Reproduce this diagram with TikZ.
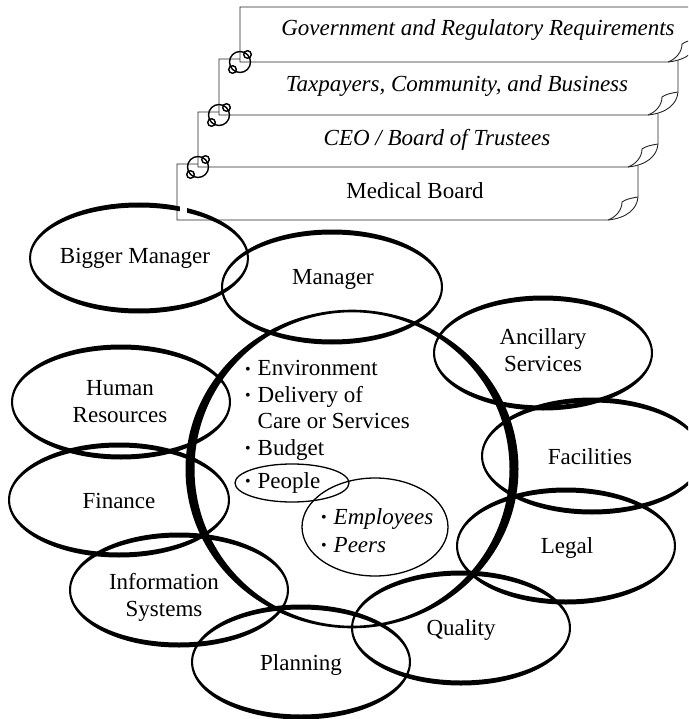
\documentclass[tikz,border=0pt]{standalone}
\usepackage{fontspec}
\setmainfont{Liberation Serif}

% Brush-stroke ring: filled band between two concentric ellipses,
% #1,#2 centre; #3,#4 radii; #5,#6 half stroke width at the sides / top-bottom
\newcommand{\brushring}[6]{%
  \fill[even odd rule] (#1,#2) ellipse [x radius={#3+#5}, y radius={#4+#6}]
                       (#1,#2) ellipse [x radius={#3-#5}, y radius={#4-#6}];}

% Scroll-like banner with a curled lower right corner: left, top, right, bottom
\newcommand{\scrollbox}[4]{%
  \filldraw[boxline] (#1,#2) -- (#3,#2) -- (#3,#4-23)
     .. controls (#3-1,#4-11) and (#3-11,#4-2) .. (#3-30,#4) -- (#1,#4) -- cycle;
  \draw[boxline] (#3,#4-23) .. controls (#3-6,#4-22) and (#3-12,#4-21) .. (#3-16,#4-18)
     .. controls (#3-16,#4-10) and (#3-22,#4-3) .. (#3-30,#4);}

% Rolled edge where two banners meet
\newcommand{\scrollcurl}[2]{%
  \draw[curlline] (#1,#2) circle [radius=10.5];
  \draw[curlline] (#1+7.5,#2-7.5) circle [radius=3.8];
  \draw[curlline] (#1-7.5,#2+7.5) circle [radius=3.8];}

\newcommand{\bul}{\makebox[12.5pt][l]{\raisebox{1.2pt}{\fontsize{16}{16}\selectfont\textbullet}}}

\begin{document}
\begin{tikzpicture}[x=1pt,y=-1pt,
  boxline/.style={draw=black!85, line width=0.9pt, fill=white},
  curlline/.style={draw=black, line width=1.4pt},
  thinring/.style={draw=black, line width=1.3pt},
  lbl/.style={inner sep=0pt, font=\fontsize{23}{26.5}\selectfont, align=center},
  boxtxt/.style={lbl, anchor=base},
  lbltxt/.style={lbl, anchor=base}]
\useasboundingbox (0,0) rectangle (688,719);
\clip (0,0) rectangle (688,719);

% stacked banners, lowest first
\scrollbox{177}{164}{638}{220}
\scrollbox{198}{112}{658}{167}
\scrollbox{219}{59}{678}{115}
\scrollbox{240}{7}{698}{62}
\scrollcurl{198}{167}
\scrollcurl{219}{115}
\scrollcurl{240}{62}

\node[boxtxt] (gov) at (478,36) {\itshape Government and Regulatory Requirements};
\node[boxtxt] (tax) at (457,92) {\itshape Taxpayers, Community, and Business};
\node[boxtxt] (ceo) at (437,146) {\itshape CEO / Board of Trustees};
\node[boxtxt] (med) at (415,199) {Medical Board};

% surrounding groups
\brushring{139}{258}{109}{53}{1}{2.5}
\brushring{332}{287}{110}{55}{1}{2.5}
\brushring{121}{402}{109}{55}{1}{2.5}
\brushring{119}{500}{110}{55}{1}{2.5}
\brushring{179}{590}{109}{55}{1}{2.5}
\brushring{301}{662}{109}{55}{1}{2.5}
\brushring{461}{628}{109}{55}{1}{2.5}
\brushring{566}{546}{109}{56}{1}{2.5}
\brushring{592}{456}{110}{56}{1}{2.5}
\brushring{543}{353}{109}{55}{1}{2.5}
% central area of responsibility
\brushring{352}{469}{162}{158}{4.5}{1.3}
\draw[thinring] (292,483) ellipse [x radius=57, y radius=19];
\draw[thinring] (375,527) ellipse [x radius=73, y radius=49];

% gap where the ring passes in front of the banner edge
\fill[white] (179.6,196) rectangle (187,214);

% multi-line labels are anchored at the baseline of their last line
\node[lbltxt] (bigmgr) at (135,263) {Bigger Manager};
\node[lbltxt] (mgr) at (333,284) {Manager};
\node[lbltxt] (hr) at (120,422) {Human\\Resources};
\node[lbltxt] (fin) at (119,508) {Finance};
\node[lbltxt] (info) at (164,616) {Information\\Systems};
\node[lbltxt] (plan) at (301,670) {Planning};
\node[lbltxt] (qual) at (461,635) {Quality};
\node[lbltxt] (legal) at (567,553) {Legal};
\node[lbltxt] (fac) at (590,464) {Facilities};
\node[lbltxt] (anc) at (543,371) {Ancillary\\Services};

\node[lbl, align=left, anchor=base west] (topics) at (245,455)
  {\bul Environment\\ \bul Delivery of\\ \hspace*{12.5pt}Care or Services\\ \bul Budget};
\node[lbl, align=left, anchor=base west] (people) at (245,488) {\bul People};
\node[lbl, align=left, anchor=base west, font=\fontsize{23}{28}\selectfont] (staff) at (321,552)
  {\bul\textit{Employees}\\ \bul\textit{Peers}};
\end{tikzpicture}
\end{document}
